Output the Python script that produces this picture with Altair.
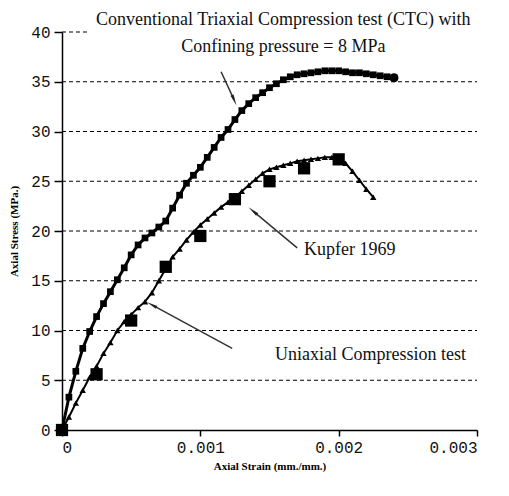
import altair as alt
import pandas as pd

# Conventional Triaxial Compression (CTC) curve
ctc_strain = [0, 0.00005, 0.0001, 0.00015, 0.0002, 0.00025, 0.0003, 0.00035, 0.0004, 0.00045,
              0.0005, 0.00055, 0.0006, 0.00065, 0.0007, 0.00075, 0.0008, 0.00085, 0.0009, 0.00095,
              0.001, 0.00105, 0.0011, 0.00115, 0.0012, 0.00125, 0.0013, 0.00135, 0.0014, 0.00145,
              0.0015, 0.00155, 0.0016, 0.00165, 0.0017, 0.00175, 0.0018, 0.00185, 0.0019, 0.00195,
              0.002, 0.00205, 0.0021, 0.00215, 0.0022, 0.00225, 0.0023, 0.00235, 0.0024]
ctc_stress = [0, 3.3, 5.9, 8.2, 9.9, 11.4, 12.7, 13.9, 15.1, 16.3,
              17.6, 18.6, 19.3, 19.8, 20.4, 21.0, 22.3, 23.6, 24.8, 25.6,
              26.4, 27.4, 28.4, 29.4, 30.2, 31.2, 32.1, 32.8, 33.4, 33.9,
              34.4, 34.8, 35.2, 35.5, 35.7, 35.8, 35.9, 36.0, 36.1, 36.1,
              36.1, 36.0, 35.9, 35.9, 35.8, 35.7, 35.6, 35.5, 35.4]

# Uniaxial compression curve
uni_strain = [0, 0.00005, 0.0001, 0.00015, 0.0002, 0.00025, 0.0003, 0.00035, 0.0004, 0.00045,
              0.0005, 0.00055, 0.0006, 0.00065, 0.0007, 0.00075, 0.0008, 0.00085, 0.0009, 0.00095,
              0.001, 0.00105, 0.0011, 0.00115, 0.0012, 0.00125, 0.0013, 0.00135, 0.0014, 0.00145,
              0.0015, 0.00155, 0.0016, 0.00165, 0.0017, 0.00175, 0.0018, 0.00185, 0.0019, 0.00195,
              0.002, 0.00205, 0.0021, 0.00215, 0.0022, 0.00225]
uni_stress = [0, 1.3, 2.7, 4.0, 5.3, 6.4, 7.7, 8.8, 10.0, 10.9,
              11.6, 12.3, 12.9, 13.8, 15.0, 16.2, 17.4, 18.2, 19.1, 19.9,
              20.6, 21.2, 21.8, 22.4, 22.9, 23.4, 24.0, 24.6, 25.2, 25.8,
              26.2, 26.4, 26.6, 26.8, 27.0, 27.1, 27.2, 27.3, 27.4, 27.4,
              27.3, 26.8, 26.0, 25.1, 24.2, 23.4]

# Kupfer 1969 experimental points
kupfer_strain = [0, 0.00025, 0.0005, 0.00075, 0.001, 0.00125, 0.0015, 0.00175, 0.002]
kupfer_stress = [0, 5.6, 11.0, 16.4, 19.5, 23.2, 25.0, 26.3, 27.2]

# Dashed gridlines
grid_stress = [5, 10, 15, 20, 25, 30, 35, 40]
grid_strain_end = [0.003, 0.003, 0.003, 0.003, 0.003, 0.003, 0.003, 0.00018]

# Annotation arrows (tail -> head) and labels
arrow_names = ["ctc", "kupfer", "uni"]
arrow_tail_strain = [0.00115, 0.00170, 0.00123]
arrow_tail_stress = [36.0, 18.3, 8.2]
arrow_head_strain = [0.00124, 0.00139, 0.00066]
arrow_head_stress = [33.3, 21.9, 12.5]

label_texts = ["Conventional Triaxial Compression test (CTC) with",
               "Confining pressure = 8 MPa",
               "Kupfer 1969",
               "Uniaxial Compression test"]
label_strain = [0.00160, 0.00160, 0.00175, 0.00154]
label_stress = [41.2, 38.5, 18.1, 7.5]
label_align = ["center", "center", "left", "left"]

ctc = pd.DataFrame({"strain": ctc_strain, "stress": ctc_stress})
ctc_end = pd.DataFrame({"strain": ctc_strain[-1:], "stress": ctc_stress[-1:]})
uni = pd.DataFrame({"strain": uni_strain, "stress": uni_stress})
kup = pd.DataFrame({"strain": kupfer_strain, "stress": kupfer_stress})
grid = pd.DataFrame({"stress": grid_stress, "x0": [0] * len(grid_stress), "x1": grid_strain_end})
arrows = pd.DataFrame({"name": arrow_names, "tx": arrow_tail_strain, "ty": arrow_tail_stress,
                       "hx": arrow_head_strain, "hy": arrow_head_stress})
labels = pd.DataFrame({"text": label_texts, "strain": label_strain, "stress": label_stress,
                       "align": label_align})

xs = alt.Scale(domain=[0, 0.003], nice=False, zero=False)
ys = alt.Scale(domain=[0, 40], nice=False)

X = alt.X("strain:Q", scale=xs,
          axis=alt.Axis(values=[0, 0.001, 0.002, 0.003], format=".3~f",
                        title="Axial Strain (mm./mm.)", tickSize=6, labelPadding=3,
                        titlePadding=5))
Y = alt.Y("stress:Q", scale=ys,
          axis=alt.Axis(values=[0, 5, 10, 15, 20, 25, 30, 35, 40],
                        title="Axial Stress (MPa.)", tickSize=8, labelPadding=4,
                        titlePadding=11))

grid_layer = alt.Chart(grid).mark_rule(color="black", strokeWidth=1, strokeDash=[4, 3]).encode(
    x=alt.X("x0:Q", scale=xs), x2="x1:Q", y=alt.Y("stress:Q", scale=ys))

ctc_line = alt.Chart(ctc).mark_line(color="black", strokeWidth=3).encode(x=X, y=Y)
ctc_pts = alt.Chart(ctc).mark_point(shape="square", filled=True, color="black", size=45,
                                    opacity=1).encode(x=X, y=Y)
ctc_end_pt = alt.Chart(ctc_end).mark_point(shape="circle", filled=True, color="black",
                                           size=80, opacity=1).encode(x=X, y=Y)
uni_line = alt.Chart(uni).mark_line(color="black", strokeWidth=2).encode(x=X, y=Y)
uni_pts = alt.Chart(uni).mark_point(shape="triangle-up", filled=True, color="black", size=40,
                                    opacity=1).encode(x=X, y=Y)
kup_pts = alt.Chart(kup).mark_point(shape="square", filled=True, color="black", size=150,
                                    opacity=1).encode(x=X, y=Y)

arrow_lines = alt.Chart(arrows).mark_rule(color="#333333", strokeWidth=1.5).encode(
    x=alt.X("tx:Q", scale=xs), y=alt.Y("ty:Q", scale=ys), x2="hx:Q", y2="hy:Q")

heads = []
for name, ang in zip(arrow_names, [157, 310, 298]):
    heads.append(
        alt.Chart(arrows).transform_filter(alt.datum.name == name)
        .mark_point(shape="wedge", filled=True, color="#222222", size=170, opacity=1)
        .encode(x=alt.X("hx:Q", scale=xs), y=alt.Y("hy:Q", scale=ys), angle=alt.value(ang)))

texts = []
for al in ["center", "left"]:
    texts.append(
        alt.Chart(labels).transform_filter(alt.datum.align == al)
        .mark_text(font="Liberation Serif", fontSize=18, color="#111111", align=al,
                   baseline="middle")
        .encode(x=alt.X("strain:Q", scale=xs), y=alt.Y("stress:Q", scale=ys), text="text:N"))

chart = alt.layer(grid_layer, uni_line, uni_pts, ctc_line, ctc_pts, ctc_end_pt, kup_pts,
                  arrow_lines, *heads, *texts).properties(
    width=415, height=398,
    autosize=alt.AutoSizeParams(type="none"),
    padding={"left": 54, "top": 24, "right": 24, "bottom": 50},
).configure_view(stroke=None).configure_axis(
    domainColor="black", domainWidth=1.5, tickColor="black", tickWidth=1.5,
    grid=False, labelFont="Liberation Mono", labelFontSize=16, labelColor="#111111",
    titleFont="Liberation Serif", titleFontSize=11, titleFontWeight="bold", titleColor="black",
)

chart.save("out.html", embed_options={"renderer": "svg", "actions": False})
